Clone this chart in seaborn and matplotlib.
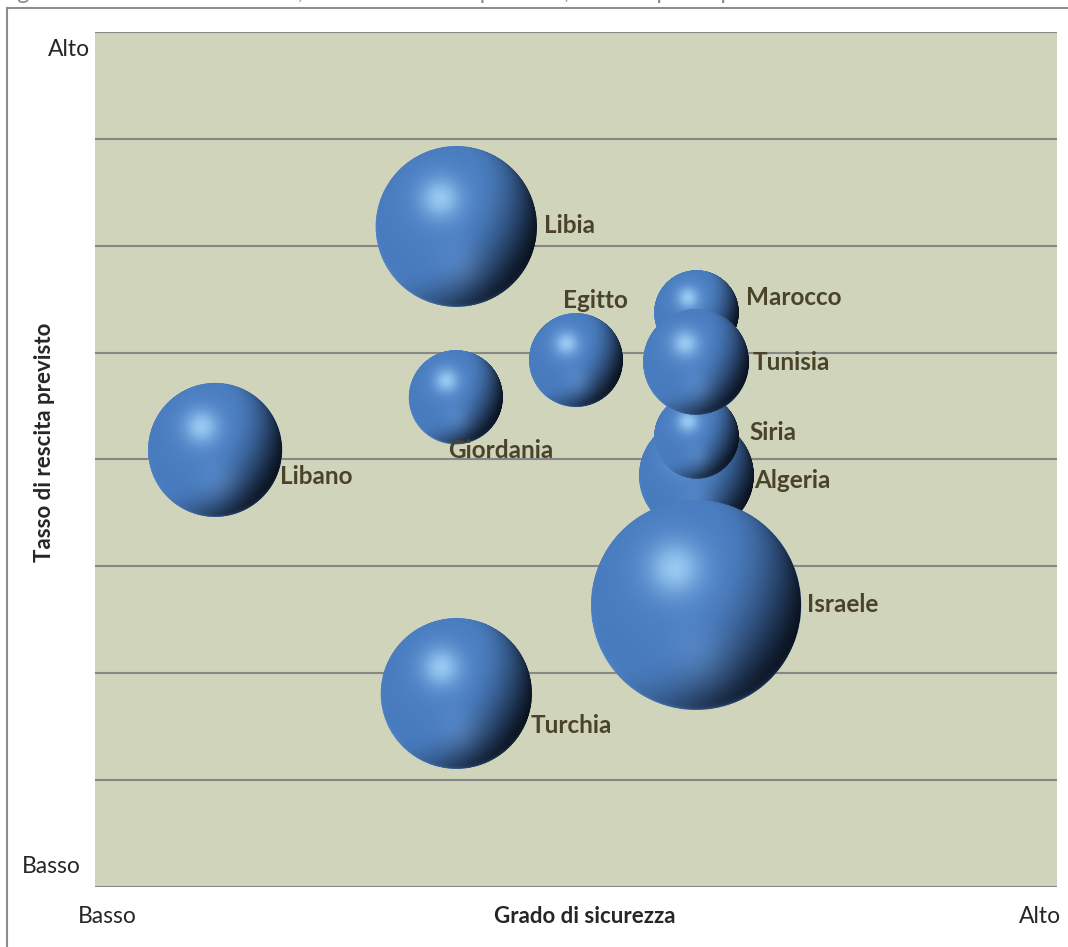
import numpy as np
import pandas as pd
import matplotlib
matplotlib.use("Agg")
import matplotlib.pyplot as plt
import seaborn as sns
from matplotlib.offsetbox import OffsetImage, AnnotationBbox

# Paesi del Mediterraneo: sicurezza, crescita prevista, reddito pro capite
paesi = ["Algeria", "Egitto", "Giordania", "Israele", "Libano",
         "Libia", "Marocco", "Siria", "Tunisia", "Turchia"]
sicurezza = [5, 4, 3, 5, 1, 3, 5, 5, 5, 3]
crescita = [3.85, 4.93, 4.58, 2.64, 4.09, 6.18, 5.37, 4.21, 4.91, 1.81]
reddito = [8300, 5600, 5600, 28000, 11400, 16300, 4500, 4500, 7100, 14300]

df = pd.DataFrame({"paese": paesi, "sicurezza": sicurezza,
                   "crescita": crescita, "reddito": reddito})

# label placement (pixels: left edge of text from centre, vertical shift, down positive)
label_offset = {
    "Algeria": (58, 5), "Egitto": (-13, -60), "Giordania": (-8, 53),
    "Israele": (111, 0), "Libano": (65, 27), "Libia": (88, -1),
    "Marocco": (50, -16), "Siria": (53, -5), "Tunisia": (56, 0),
    "Turchia": (75, 32),
}

DPI = 100
BG = "#cfd4bb"
GRID = "#878787"
LABEL_COL = "#4b4329"
FONT = ["Lato", "DejaVu Sans"]

sns.set_theme(style="white")
plt.rcParams["font.family"] = FONT

fig = plt.figure(figsize=(10.68, 9.47), dpi=DPI)
ax = fig.add_axes([95 / 1068, 60 / 947, 962 / 1068, 855 / 947])
ax.set_facecolor(BG)

smax = (210 * 72 / DPI) ** 2  # marker area for the largest income
sns.scatterplot(data=df, x="sicurezza", y="crescita", size="reddito",
                sizes=(0, smax), size_norm=(0, max(reddito)),
                color="#4a7cbc", linewidth=0, legend=False, ax=ax, zorder=2)

ax.set_xlim(0, 8)
ax.set_ylim(0, 8)
ax.set_yticks(np.arange(0, 9))
ax.set_xticks([])
ax.yaxis.grid(True, color=GRID, linewidth=1.5)
ax.tick_params(axis="y", length=0, labelleft=False)
ax.set_xlabel("")
ax.set_ylabel("")
for side in ["left", "right", "top", "bottom"]:
    ax.spines[side].set_visible(False)


def smoothstep(x, a, b):
    t = np.clip((x - a) / (b - a), 0, 1)
    return t * t * (3 - 2 * t)


def sfera(n=360):
    """RGBA texture of a shaded blue sphere lit from the upper left."""
    c = (np.arange(n) + 0.5) / n * 2 - 1
    u, v = np.meshgrid(c, -c)
    r = np.sqrt(u ** 2 + v ** 2)
    z = np.sqrt(np.clip(1 - r ** 2, 0, 1))
    L = np.array([-0.75, 0.45, 0.5])
    L = L / np.linalg.norm(L)
    d = u * L[0] + v * L[1] + z * L[2]
    shade = smoothstep(d, -0.8, 0.5)
    base = np.array([0.28, 0.48, 0.74])
    dark = np.array([0.04, 0.07, 0.12])
    col = dark + (base - dark) * shade[..., None]
    glow = np.exp(-((u + 0.2) ** 2 + (v - 0.33) ** 2) / (2 * 0.38 ** 2))
    col = col + (np.array([0.45, 0.66, 0.92]) - col) * (0.3 * glow)[..., None]
    hl = np.exp(-((u + 0.2) ** 2 + (v - 0.35) ** 2) / (2 * 0.17 ** 2))
    light = np.array([0.68, 0.87, 1.0])
    col = col + (light - col) * (0.75 * hl)[..., None]
    h2 = np.exp(-((u - 0.05) ** 2 + (v + 0.5) ** 2) / (2 * 0.2 ** 2))
    col = col + 0.06 * h2[..., None]
    rim = np.clip(1 - z, 0, 1) ** 6 * np.clip(-v * 0.85 - u * 0.3, 0, 1)
    rimc = np.array([0.38, 0.58, 0.86])
    col = col + (rimc - col) * rim[..., None]
    alpha = np.clip((1 - r) * n / 2 + 0.5, 0, 1)
    return np.dstack([np.clip(col, 0, 1), alpha])


tex = sfera()
pts = ax.collections[0]
sizes = pts.get_sizes()
offsets = pts.get_offsets()
for i, (pos, s) in enumerate(zip(offsets, sizes)):
    diam_px = np.sqrt(s) * DPI / 72
    im = OffsetImage(tex, zoom=diam_px / tex.shape[0], dpi_cor=False,
                     interpolation="bilinear")
    ab = AnnotationBbox(im, (pos[0], pos[1]), xycoords="data", frameon=False,
                        pad=0, box_alignment=(0.5, 0.5), zorder=3 + i)
    ax.add_artist(ab)

for p, x, y in zip(paesi, sicurezza, crescita):
    dx, dy = label_offset[p]
    ax.annotate(p, (x, y), xytext=(dx, -dy), textcoords="offset pixels",
                ha="left", va="center", fontsize=17.5, fontweight="bold",
                color=LABEL_COL, zorder=20)

# axis wording
fig.text(69 / 1068, 1 - 50 / 947, "Alto", ha="center", va="center", fontsize=16.5)
fig.text(51 / 1068, 1 - 866 / 947, "Basso", ha="center", va="center", fontsize=16.5)
fig.text(107 / 1068, 1 - 916 / 947, "Basso", ha="center", va="center", fontsize=16.5)
fig.text(1040 / 1068, 1 - 916 / 947, "Alto", ha="center", va="center", fontsize=16.5)
fig.text(585 / 1068, 1 - 916 / 947, "Grado di sicurezza", ha="center",
         va="center", fontsize=16, fontweight="bold")
fig.text(45 / 1068, 1 - 442 / 947, "Tasso di rescita previsto", ha="center",
         va="center", rotation=90, fontsize=16, fontweight="bold")

# caption running above the frame
fig.text(-2 / 1068, 1 + 1 / 947, "Figura 1 – Grado di sicurezza, tasso di crescita previsto, reddito pro capite",
         ha="left", va="baseline", fontsize=17, color="#8a8a8a")

# outer frame
fig.add_artist(plt.Line2D([7 / 1068, 7 / 1068], [0, 1 - 8 / 947],
                          transform=fig.transFigure, color="#8c8c8c", lw=1.5))
fig.add_artist(plt.Line2D([7 / 1068, 1], [1 - 8 / 947, 1 - 8 / 947],
                          transform=fig.transFigure, color="#8c8c8c", lw=1.5))

fig.savefig("out.png", dpi=DPI)
